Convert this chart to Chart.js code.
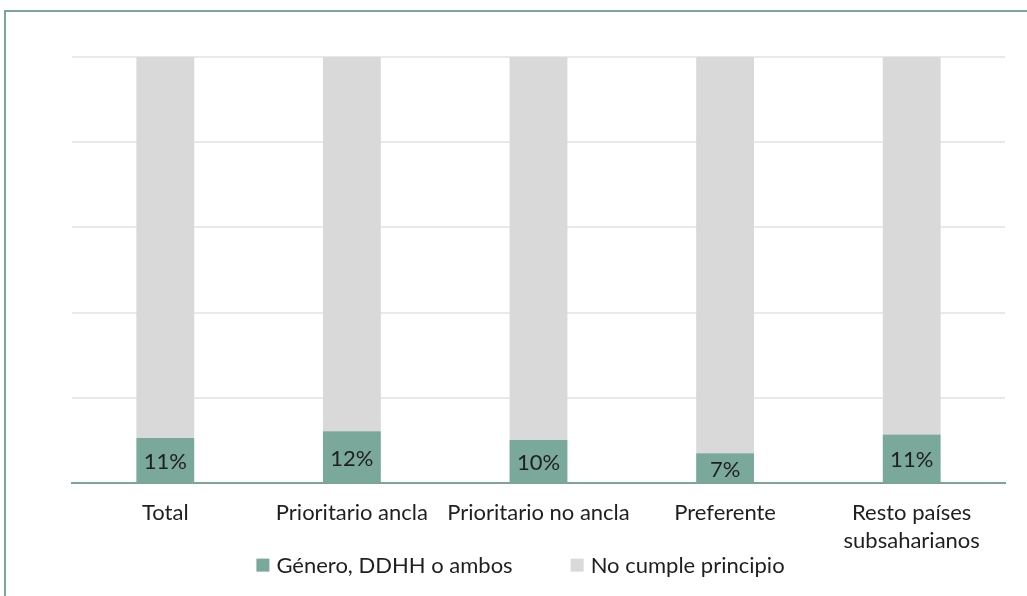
<!DOCTYPE html>
<html>
<head>
<meta charset="utf-8">
<script src="https://cdn.jsdelivr.net/npm/chart.js@4"></script>
<style>
  html, body { margin: 0; padding: 0; background: #fff; overflow: hidden; }
  #frame { position: absolute; left: 4px; top: 10px; width: 1040px; height: 600px;
           border-left: 2px solid #7ba697; border-top: 2px solid #7ba697; }
  #wrap { position: absolute; left: 0; top: 0; width: 1027px; height: 596px; }
</style>
</head>
<body>
<div id="frame"></div>
<div id="wrap"><canvas id="chart"></canvas></div>
<script>
// Categorías y valores (proporción de cada grupo)
const categorias = ["Total", "Prioritario ancla", "Prioritario no ancla", "Preferente", ["Resto países", "subsaharianos"]];
const cumple = [0.106, 0.122, 0.101, 0.070, 0.114];
const noCumple = cumple.map(v => 1 - v);
const series = ["Género, DDHH o ambos", "No cumple principio"];
const colores = ["#7aa89b", "#d9d9d9"];

const fuente = "Lato, 'Open Sans', sans-serif";

// Etiquetas de porcentaje dentro de la barra verde
const etiquetas = {
    id: "etiquetas",
    afterDatasetsDraw(chart) {
        const ctx = chart.ctx;
        const meta = chart.getDatasetMeta(0);
        ctx.save();
        ctx.font = "22px " + fuente;
        ctx.fillStyle = "#1f1f1f";
        ctx.textAlign = "center";
        ctx.textBaseline = "middle";
        meta.data.forEach((bar, i) => {
            const y = (bar.y + bar.base) / 2 + 2;
            ctx.fillText(Math.round(cumple[i] * 100) + "%", bar.x, y);
        });
        ctx.restore();
    }
};

// Leyenda dibujada a mano (espaciado como en el original)
const leyenda = {
    id: "leyenda",
    afterDraw(chart) {
        const ctx = chart.ctx;
        const caja = 13, hueco = 7, separacion = 58;
        ctx.save();
        ctx.font = "22px " + fuente;
        ctx.textBaseline = "middle";
        ctx.textAlign = "left";
        const anchos = series.map(s => caja + hueco + ctx.measureText(s).width);
        const total = anchos.reduce((a, b) => a + b, 0) + separacion * (series.length - 1);
        let x = chart.width / 2 + 7 - total / 2;
        const y = chart.chartArea.bottom + 82;
        series.forEach((s, i) => {
            ctx.fillStyle = colores[i];
            ctx.fillRect(x, y - caja / 2, caja, caja);
            ctx.fillStyle = "#1f1f1f";
            ctx.fillText(s, x + caja + hueco, y + 1);
            x += anchos[i] + separacion;
        });
        ctx.restore();
    }
};

const ctx = document.getElementById("chart").getContext("2d");
new Chart(ctx, {
    type: "bar",
    data: {
        labels: categorias,
        datasets: [
            { label: series[0], data: cumple, backgroundColor: colores[0], barPercentage: 0.31, categoryPercentage: 1 },
            { label: series[1], data: noCumple, backgroundColor: colores[1], barPercentage: 0.31, categoryPercentage: 1 }
        ]
    },
    options: {
        responsive: true,
        maintainAspectRatio: false,
        animation: false,
        layout: { padding: { left: 72, right: 22, top: 57, bottom: 25 } },
        plugins: {
            legend: { display: false },
            tooltip: { enabled: false }
        },
        scales: {
            x: {
                stacked: true,
                grid: { display: false, drawTicks: false },
                border: { color: "#7ba697", width: 2 },
                ticks: {
                    color: "#1f1f1f",
                    padding: 16,
                    maxRotation: 0,
                    font: { size: 22, family: fuente, lineHeight: 1.27 }
                }
            },
            y: {
                stacked: true,
                min: 0,
                max: 1,
                ticks: { display: false, stepSize: 0.2 },
                border: { display: false },
                grid: { color: "#e6eae8", lineWidth: 2, drawTicks: false }
            }
        }
    },
    plugins: [etiquetas, leyenda]
});
</script>
</body>
</html>
